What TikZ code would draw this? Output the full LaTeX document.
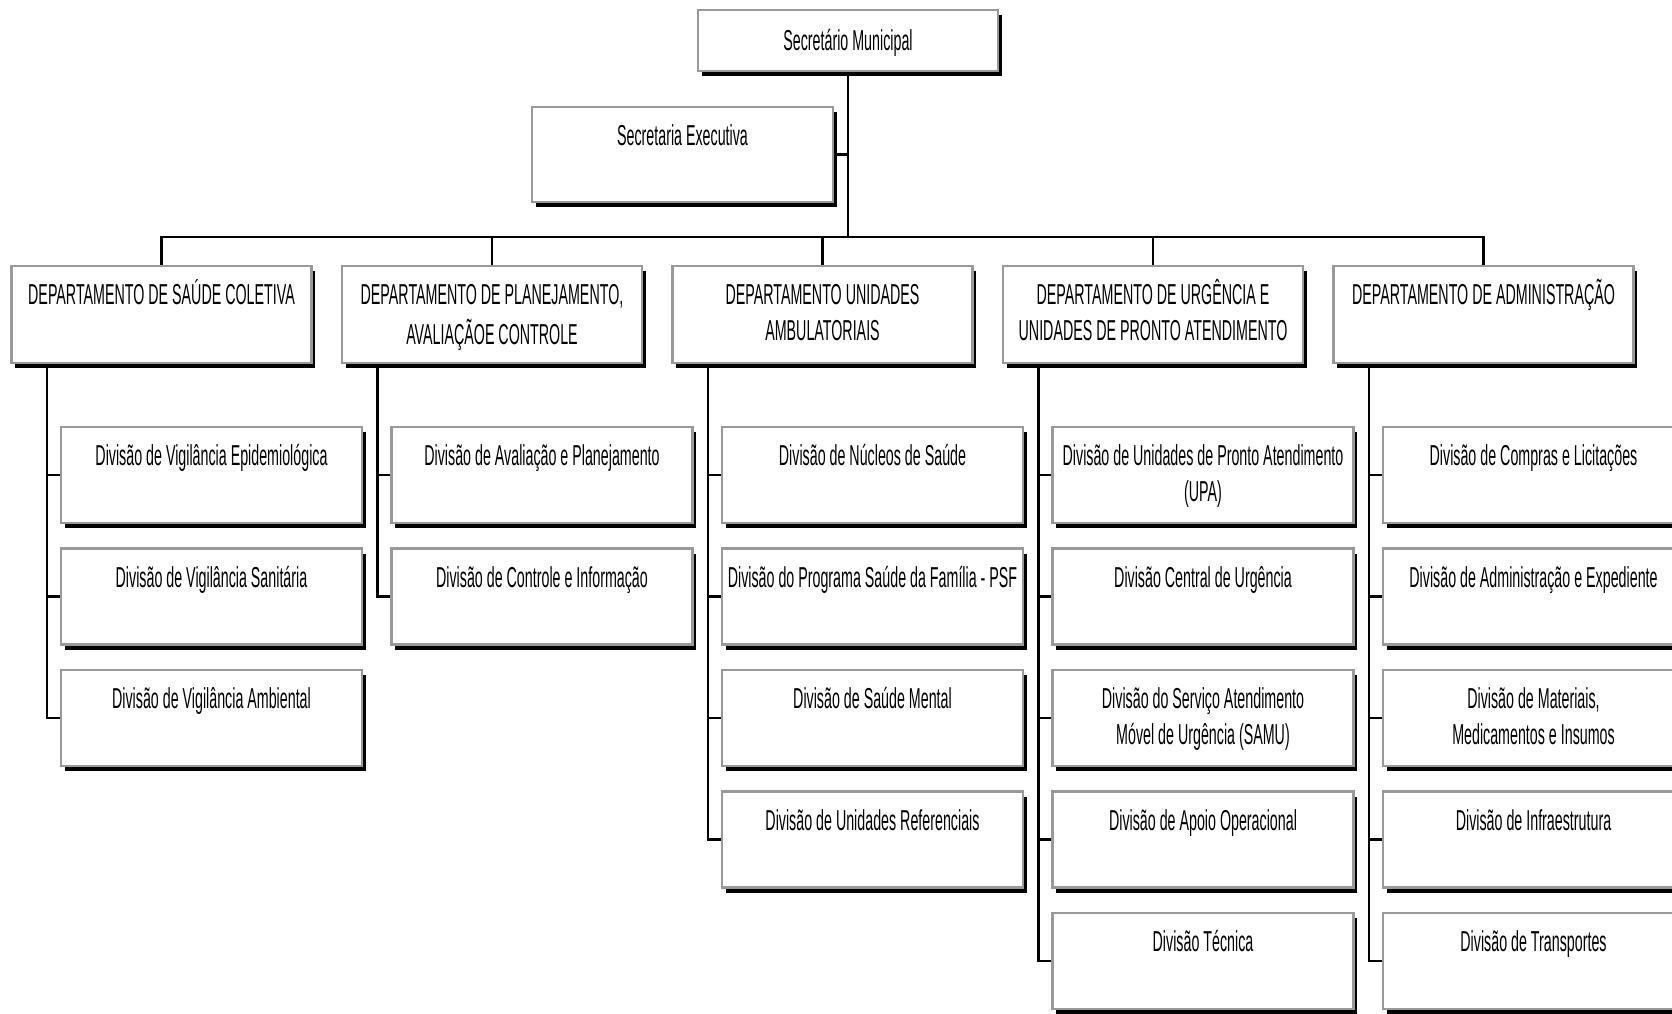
\documentclass[tikz,border=0pt]{standalone}
\usepackage{fontspec}
\setmainfont{Liberation Sans}[FakeStretch=0.495]
\usetikzlibrary{shadows}

\begin{document}
\begin{tikzpicture}[x=1cm,y=1cm,
  box/.style={draw=black!40, line width=0.6pt, fill=white, inner sep=0pt,
    drop shadow={shadow xshift=0.35mm, shadow yshift=-0.5mm, fill=black, opacity=1}},
  chief/.style={box, minimum width=3cm, minimum height=0.61cm},
  dept/.style={box, minimum width=3cm, minimum height=0.97cm},
  divi/.style={box, minimum width=3.01cm, minimum height=0.96cm},
  lbl/.style={anchor=north, yshift=-1.4mm, align=center, inner sep=0pt,
    font=\fontsize{8.2}{10.2}\selectfont, execute at begin node=\strut},
  link/.style={line width=0.6pt}]
\useasboundingbox (0,0) rectangle (16.72,-10.13);

% top
\node[chief, label={[lbl, yshift=-0.2mm]north:Secretário Municipal}] (sm) at (8.48,-0.405) {};
\node[box, minimum width=3.01cm, minimum height=0.95cm,
  label={[lbl]north:Secretaria Executiva}] (se) at (6.825,-1.545) {};
\coordinate (bus) at (8.48,-2.37);

% departments
\node[dept, label={[lbl]north:DEPARTAMENTO DE SAÚDE COLETIVA}] (dsc) at (1.615,-3.145) {};
\node[dept, label={[lbl]north:{\strut DEPARTAMENTO DE PLANEJAMENTO,\\\strut AVALIAÇÃOE CONTROLE}}] (dpc) at (4.92,-3.145) {};
\node[dept, label={[lbl]north:{\strut DEPARTAMENTO UNIDADES\\\strut AMBULATORIAIS}}] (dua) at (8.225,-3.145) {};
\node[dept, label={[lbl]north:{\strut DEPARTAMENTO DE URGÊNCIA E\\\strut UNIDADES DE PRONTO ATENDIMENTO}}] (dup) at (11.53,-3.145) {};
\node[dept, label={[lbl]north:DEPARTAMENTO DE ADMINISTRAÇÃO}] (dad) at (14.835,-3.145) {};

% saude coletiva
\node[divi, label={[lbl]north:Divisão de Vigilância Epidemiológica}] (dsc1) at (2.115,-4.75) {};
\node[divi, label={[lbl]north:Divisão de Vigilância Sanitária}] (dsc2) at (2.115,-5.965) {};
\node[divi, label={[lbl]north:Divisão de Vigilância Ambiental}] (dsc3) at (2.115,-7.18) {};

% planejamento
\node[divi, label={[lbl]north:Divisão de Avaliação e Planejamento}] (dpc1) at (5.42,-4.75) {};
\node[divi, label={[lbl]north:Divisão de Controle e Informação}] (dpc2) at (5.42,-5.965) {};

% ambulatoriais
\node[divi, label={[lbl]north:Divisão de Núcleos de Saúde}] (dua1) at (8.725,-4.75) {};
\node[divi, label={[lbl]north:Divisão do Programa Saúde da Família - PSF}] (dua2) at (8.725,-5.965) {};
\node[divi, label={[lbl]north:Divisão de Saúde Mental}] (dua3) at (8.725,-7.18) {};
\node[divi, label={[lbl]north:Divisão de Unidades Referenciais}] (dua4) at (8.725,-8.395) {};

% urgencia
\node[divi, label={[lbl]north:{\strut Divisão de Unidades de Pronto Atendimento\\\strut (UPA)}}] (dup1) at (12.03,-4.75) {};
\node[divi, label={[lbl]north:Divisão Central de Urgência}] (dup2) at (12.03,-5.965) {};
\node[divi, label={[lbl]north:{\strut Divisão do Serviço Atendimento\\\strut Móvel de Urgência (SAMU)}}] (dup3) at (12.03,-7.18) {};
\node[divi, label={[lbl]north:Divisão de Apoio Operacional}] (dup4) at (12.03,-8.395) {};
\node[divi, label={[lbl]north:Divisão Técnica}] (dup5) at (12.03,-9.61) {};

% administracao
\node[divi, label={[lbl]north:Divisão de Compras e Licitações}] (dad1) at (15.335,-4.75) {};
\node[divi, label={[lbl]north:Divisão de Administração e Expediente}] (dad2) at (15.335,-5.965) {};
\node[divi, label={[lbl]north:{\strut Divisão de Materiais,\\\strut Medicamentos e Insumos}}] (dad3) at (15.335,-7.18) {};
\node[divi, label={[lbl]north:Divisão de Infraestrutura}] (dad4) at (15.335,-8.395) {};
\node[divi, label={[lbl]north:Divisão de Transportes}] (dad5) at (15.335,-9.61) {};

% links
\draw[link] (sm.south) -- (bus);
\draw[link] (se.east) -- (se.east -| sm.south);
\draw[link] (dsc.north) |- (bus) -| (dad.north);
\draw[link] (dpc.north) -- (dpc.north |- bus);
\draw[link] (dua.north) -- (dua.north |- bus);
\draw[link] (dup.north) -- (dup.north |- bus);

\draw[link] (dsc1.west) -| ([xshift=3.65mm]dsc.south west);
\draw[link] (dsc2.west) -| ([xshift=3.65mm]dsc.south west);
\draw[link] (dsc3.west) -| ([xshift=3.65mm]dsc.south west);

\draw[link] (dpc1.west) -| ([xshift=3.65mm]dpc.south west);
\draw[link] (dpc2.west) -| ([xshift=3.65mm]dpc.south west);

\draw[link] (dua1.west) -| ([xshift=3.65mm]dua.south west);
\draw[link] (dua2.west) -| ([xshift=3.65mm]dua.south west);
\draw[link] (dua3.west) -| ([xshift=3.65mm]dua.south west);
\draw[link] (dua4.west) -| ([xshift=3.65mm]dua.south west);

\draw[link] (dup1.west) -| ([xshift=3.65mm]dup.south west);
\draw[link] (dup2.west) -| ([xshift=3.65mm]dup.south west);
\draw[link] (dup3.west) -| ([xshift=3.65mm]dup.south west);
\draw[link] (dup4.west) -| ([xshift=3.65mm]dup.south west);
\draw[link] (dup5.west) -| ([xshift=3.65mm]dup.south west);

\draw[link] (dad1.west) -| ([xshift=3.65mm]dad.south west);
\draw[link] (dad2.west) -| ([xshift=3.65mm]dad.south west);
\draw[link] (dad3.west) -| ([xshift=3.65mm]dad.south west);
\draw[link] (dad4.west) -| ([xshift=3.65mm]dad.south west);
\draw[link] (dad5.west) -| ([xshift=3.65mm]dad.south west);
\end{tikzpicture}
\end{document}
